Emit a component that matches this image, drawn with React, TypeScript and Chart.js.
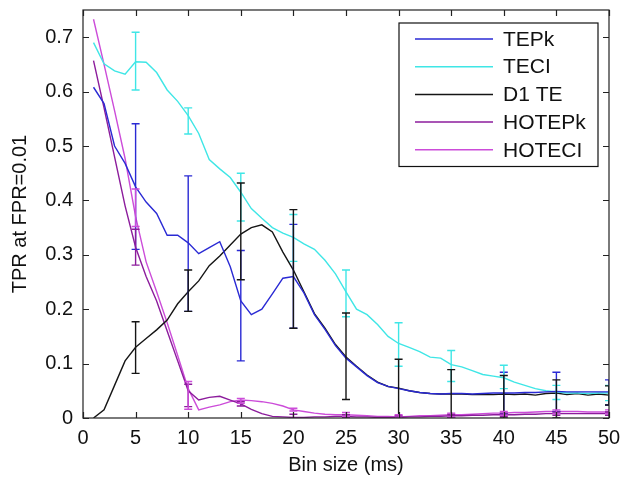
import React, { useEffect, useRef } from "react";
import { Chart, registerables } from "chart.js";

Chart.register(...registerables);

// ---- data ----
const binSizes = [
  1, 2, 3, 4, 5, 6, 7, 8, 9, 10, 11, 12, 13, 14, 15, 16, 17, 18, 19, 20, 21, 22, 23, 24, 25,
  26, 27, 28, 29, 30, 31, 32, 33, 34, 35, 36, 37, 38, 39, 40, 41, 42, 43, 44, 45, 46, 47, 48, 49, 50,
];

const tepk = [
  0.608, 0.578, 0.5, 0.468, 0.425, 0.397, 0.376, 0.336, 0.336, 0.322, 0.302, 0.313, 0.324, 0.278, 0.215,
  0.19, 0.2, 0.228, 0.257, 0.26, 0.23, 0.19, 0.163, 0.133, 0.11, 0.094, 0.078, 0.065, 0.058, 0.054,
  0.05, 0.047, 0.045, 0.044, 0.045, 0.045, 0.044, 0.045, 0.046, 0.046, 0.046, 0.047, 0.047, 0.048, 0.049,
  0.048, 0.048, 0.048, 0.048, 0.048,
];

const teci = [
  0.69, 0.651, 0.638, 0.632, 0.655, 0.654, 0.635, 0.603, 0.582, 0.556, 0.523, 0.475, 0.458, 0.442, 0.415,
  0.385, 0.367, 0.35, 0.34, 0.332, 0.32, 0.31, 0.29, 0.265, 0.232, 0.2, 0.19, 0.172, 0.15, 0.137,
  0.13, 0.122, 0.112, 0.11, 0.098, 0.094, 0.087, 0.08, 0.077, 0.074, 0.066, 0.06, 0.054, 0.05, 0.048,
  0.046, 0.046, 0.045, 0.046, 0.046,
];

const d1te = [
  0.0, 0.015, 0.06, 0.105, 0.13, 0.146, 0.162, 0.18, 0.21, 0.232, 0.252, 0.28, 0.298, 0.318, 0.338,
  0.35, 0.355, 0.342, 0.305, 0.272, 0.232, 0.192, 0.165, 0.135, 0.112, 0.095, 0.079, 0.066, 0.058, 0.055,
  0.05, 0.047, 0.045, 0.044, 0.044, 0.044, 0.043, 0.043, 0.043, 0.044, 0.043, 0.044, 0.042, 0.045, 0.046,
  0.043, 0.045, 0.042, 0.044, 0.042,
];

const hotepk = [
  0.657, 0.57, 0.48, 0.39, 0.314, 0.26, 0.215, 0.16, 0.105, 0.05, 0.033, 0.038, 0.04, 0.033, 0.026,
  0.016, 0.008, 0.003, 0.002, 0.001, 0.001, 0.002, 0.002, 0.003, 0.003, 0.002, 0.002, 0.001, 0.001, 0.001,
  0.002, 0.002, 0.003, 0.003, 0.004, 0.004, 0.005, 0.005, 0.006, 0.006, 0.006, 0.007, 0.007, 0.008, 0.008,
  0.008, 0.008, 0.008, 0.008, 0.008,
];

const hoteci = [
  0.733, 0.65, 0.565, 0.477, 0.37, 0.287, 0.232, 0.175, 0.115, 0.054, 0.015, 0.02, 0.024, 0.03, 0.033,
  0.032, 0.03, 0.027, 0.022, 0.015, 0.012, 0.009, 0.007, 0.006, 0.006, 0.005, 0.004, 0.003, 0.003, 0.002,
  0.003, 0.004, 0.004, 0.005, 0.006, 0.006, 0.007, 0.008, 0.009, 0.009, 0.01, 0.01, 0.011, 0.012, 0.012,
  0.012, 0.012, 0.011, 0.011, 0.011,
];

// error bars at every 5 ms
const errBins = [5, 10, 15, 20, 25, 30, 35, 40, 45, 50];
const tepkLow = [0.31, 0.196, 0.105, 0.165, null, null, null, 0.008, 0.012, 0.024];
const tepkHigh = [0.541, 0.445, 0.308, 0.356, null, null, null, 0.084, 0.084, 0.07];
const teciLow = [0.603, 0.522, 0.362, 0.288, 0.186, 0.095, 0.067, 0.054, 0.034, 0.032];
const teciHigh = [0.709, 0.57, 0.45, 0.374, 0.272, 0.175, 0.124, 0.097, 0.06, 0.06];
const d1teLow = [0.082, 0.196, 0.254, 0.165, 0.034, 0, 0, 0, 0, 0.024];
const d1teHigh = [0.177, 0.272, 0.432, 0.383, 0.193, 0.108, 0.089, 0.078, 0.07, 0.059];
const hotepkLow = [0.281, 0.021, 0.022, 0.0, 0.001, 0.0, 0.001, 0.003, 0.005, 0.005];
const hotepkHigh = [0.347, 0.062, 0.03, 0.007, 0.006, 0.004, 0.007, 0.009, 0.011, 0.011];
const hoteciLow = [0.352, 0.016, 0.027, 0.013, 0.003, 0.0, 0.002, 0.005, 0.008, 0.008];
const hoteciHigh = [0.421, 0.067, 0.036, 0.018, 0.01, 0.006, 0.009, 0.012, 0.015, 0.015];

const seriesNames = ["TEPk", "TECI", "D1 TE", "HOTEPk", "HOTECI"];
const seriesColors = ["#2a2ad4", "#3fe6e6", "#151515", "#8c1c9c", "#cc4cd9"];

const xLabel = "Bin size (ms)";
const yLabel = "TPR at FPR=0.01";
const xMin = 0;
const xMax = 50;
const xStep = 5;
const yMin = 0;
const yMax = 0.75;
const yStep = 0.1;

const FONT = "'Liberation Sans', Arial, Helvetica, sans-serif";
const AXIS_COLOR = "#222222";

const errorBarPlugin = {
  id: "errorBars",
  afterDatasetsDraw(chart: any) {
    const ctx = chart.ctx;
    const xs = chart.scales.x;
    const ys = chart.scales.y;
    const area = chart.chartArea;
    ctx.save();
    ctx.beginPath();
    ctx.rect(area.left, area.top, area.right - area.left, area.bottom - area.top);
    ctx.clip();
    chart.data.datasets.forEach((ds: any) => {
      const lows = ds.errLow as (number | null)[];
      const highs = ds.errHigh as (number | null)[];
      if (!lows) return;
      ctx.strokeStyle = ds.borderColor;
      ctx.lineWidth = 1.4;
      errBins.forEach((b, i) => {
        const lo = lows[i];
        const hi = highs[i];
        if (lo == null || hi == null) return;
        const px = xs.getPixelForValue(b);
        const pLo = ys.getPixelForValue(lo);
        const pHi = ys.getPixelForValue(hi);
        const cap = 4;
        ctx.beginPath();
        ctx.moveTo(px, pLo);
        ctx.lineTo(px, pHi);
        ctx.moveTo(px - cap, pLo);
        ctx.lineTo(px + cap, pLo);
        ctx.moveTo(px - cap, pHi);
        ctx.lineTo(px + cap, pHi);
        ctx.stroke();
      });
    });
    ctx.restore();
  },
};

const framePlugin = {
  id: "frame",
  afterDraw(chart: any) {
    const ctx = chart.ctx;
    const a = chart.chartArea;
    const xs = chart.scales.x;
    const ys = chart.scales.y;
    const tl = 6;
    ctx.save();
    ctx.strokeStyle = AXIS_COLOR;
    ctx.lineWidth = 1.2;
    ctx.strokeRect(a.left, a.top, a.right - a.left, a.bottom - a.top);
    ctx.beginPath();
    xs.ticks.forEach((t: any) => {
      const px = Math.round(xs.getPixelForValue(t.value)) + 0.5;
      ctx.moveTo(px, a.bottom);
      ctx.lineTo(px, a.bottom - tl);
      ctx.moveTo(px, a.top);
      ctx.lineTo(px, a.top + tl);
    });
    ys.ticks.forEach((t: any) => {
      const py = Math.round(ys.getPixelForValue(t.value)) + 0.5;
      ctx.moveTo(a.left, py);
      ctx.lineTo(a.left + tl, py);
      ctx.moveTo(a.right, py);
      ctx.lineTo(a.right - tl, py);
    });
    ctx.stroke();

    // legend
    const boxRight = a.right - 11;
    const boxTop = a.top + 13;
    const boxW = 199;
    const rowH = 27.7;
    const n = chart.data.datasets.length;
    const boxH = 15 + rowH * n - 10;
    const boxLeft = boxRight - boxW;
    ctx.fillStyle = "#ffffff";
    ctx.fillRect(boxLeft, boxTop, boxW, boxH);
    ctx.strokeStyle = "#111111";
    ctx.lineWidth = 1.2;
    ctx.strokeRect(boxLeft, boxTop, boxW, boxH);
    ctx.font = `21px ${FONT}`;
    ctx.textBaseline = "middle";
    ctx.textAlign = "left";
    chart.data.datasets.forEach((ds: any, i: number) => {
      const cy = boxTop + 16 + rowH * i;
      ctx.strokeStyle = ds.borderColor;
      ctx.lineWidth = 1.5;
      ctx.beginPath();
      ctx.moveTo(boxLeft + 16, cy);
      ctx.lineTo(boxLeft + 94, cy);
      ctx.stroke();
      ctx.fillStyle = "#111111";
      ctx.fillText(ds.label, boxLeft + 104, cy + 1);
    });
    ctx.restore();
  },
};

export default function App() {
  const canvasRef = useRef<HTMLCanvasElement | null>(null);

  useEffect(() => {
    const canvas = canvasRef.current;
    if (!canvas) return;
    const series = [tepk, teci, d1te, hotepk, hoteci];
    const lows = [tepkLow, teciLow, d1teLow, hotepkLow, hoteciLow];
    const highs = [tepkHigh, teciHigh, d1teHigh, hotepkHigh, hoteciHigh];
    const datasets = series.map((vals, i) => ({
      label: seriesNames[i],
      data: binSizes.map((b, j) => ({ x: b, y: vals[j] })),
      borderColor: seriesColors[i],
      backgroundColor: seriesColors[i],
      borderWidth: 1.4,
      pointRadius: 0,
      tension: 0,
      fill: false,
      errLow: lows[i],
      errHigh: highs[i],
    }));

    const chart = new Chart(canvas, {
      type: "line",
      data: { datasets } as any,
      options: {
        animation: false,
        responsive: false,
        devicePixelRatio: 1,
        layout: { padding: { top: 10, right: 17, left: 0, bottom: 0 } },
        plugins: {
          legend: { display: false },
          tooltip: { enabled: false },
        },
        scales: {
          x: {
            type: "linear",
            min: xMin,
            max: xMax,
            grid: { display: false, drawTicks: false },
            border: { display: false },
            ticks: {
              stepSize: xStep,
              padding: 8,
              color: "#111111",
              font: { family: FONT, size: 20 },
              maxRotation: 0,
              includeBounds: false,
            },
            title: {
              display: true,
              text: xLabel,
              color: "#111111",
              font: { family: FONT, size: 20 },
              padding: { top: 0, bottom: 3 },
            },
            afterFit(scale: any) {
              scale.height = 62;
              scale.paddingLeft = 0;
              scale.paddingRight = 0;
            },
          },
          y: {
            type: "linear",
            min: yMin,
            max: yMax,
            grid: { display: false, drawTicks: false },
            border: { display: false },
            ticks: {
              stepSize: yStep,
              padding: 10,
              color: "#111111",
              font: { family: FONT, size: 20 },
              includeBounds: false,
            },
            title: {
              display: true,
              text: yLabel,
              color: "#111111",
              font: { family: FONT, size: 20 },
              padding: { top: 8, bottom: 0 },
            },
            afterFit(scale: any) {
              scale.width = 83;
              scale.paddingTop = 0;
              scale.paddingBottom = 0;
            },
          },
        },
      } as any,
      plugins: [errorBarPlugin, framePlugin],
    });
    return () => chart.destroy();
  }, []);

  return (
    <div style={{ position: "fixed", left: 0, top: 0, width: 626, height: 480, background: "#ffffff" }}>
      <canvas ref={canvasRef} width={626} height={480} />
    </div>
  );
}
